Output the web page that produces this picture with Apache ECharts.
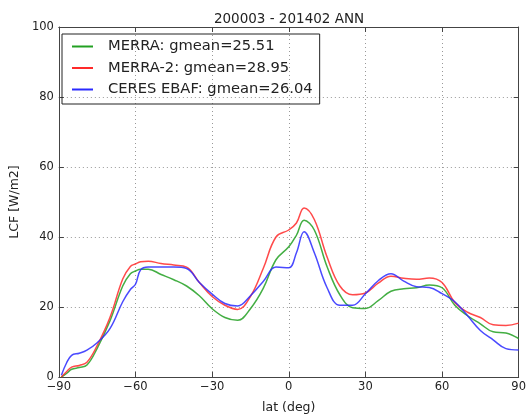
<!DOCTYPE html>
<html>
<head>
<meta charset="utf-8">
<script src="https://cdn.jsdelivr.net/npm/echarts@6/dist/echarts.min.js"></script>
<style>
  html, body { margin: 0; padding: 0; background: #fff; }
  #chart { width: 529px; height: 419px; }
</style>
</head>
<body>
<div id="chart"></div>
<script>
// 纬度 (deg)
var lat = [-89, -87, -85, -82, -79, -75, -70, -65, -62, -60, -58, -55, -50, -45, -40, -35, -30, -25, -20, -15, -10, -5,
  0, 3, 6, 10, 15, 20, 25, 30, 35, 40, 45, 50, 55, 60, 65, 70, 75, 80, 85, 90];
var merra = [0, 1.0, 2.2, 2.7, 3.4, 8.2, 16, 26, 29.5, 30.3, 30.8, 30.8, 29.3, 27.8, 26, 23.2, 19.5, 17, 16.2, 19.5, 25.3, 33.5,
  37.2, 40.5, 44.8, 42, 31.5, 23.5, 19.8, 19.6, 21.8, 24.5, 25.2, 25.5, 26.3, 25.5, 20.5, 17.5, 15.2, 12.9, 12.6, 11];
var merra2 = [0, 1.5, 2.8, 3.3, 4.2, 9, 17, 28, 31.6, 32.3, 32.9, 33.1, 32.4, 32, 31.4, 27, 23, 20.5, 19.3, 23, 31, 40,
  42, 44, 48.3, 45, 34.3, 26, 23.5, 24, 26.8, 28.8, 28.2, 27.9, 28.3, 27, 21.3, 18.5, 17, 14.9, 14.7, 15.4];
var ceres = [0.5, 4, 6.2, 6.8, 7.7, 9.8, 13.8, 21.5, 25, 26.5, 30.6, 31.4, 31.4, 31.4, 31, 27, 23.7, 21, 20.3, 23.2, 27.3, 31.4,
  31.2, 35.5, 41.5, 35.5, 25.5, 20.5, 20.5, 23.8, 27.5, 29.5, 27.4, 25.8, 25.6, 23.8, 21.5, 17.5, 13.3, 10.6, 8.1, 7.7];
var seriesNames = ['MERRA: gmean=25.51', 'MERRA-2: gmean=28.95', 'CERES EBAF: gmean=26.04'];
var xTicks = [-90, 90, 30];   // min, max, interval
var yTicks = [0, 100, 20];

function pairs(vals) {
  var out = [];
  for (var i = 0; i < lat.length; i++) out.push([lat[i], vals[i]]);
  return out;
}

var font = 'DejaVu Sans';
var myChart = echarts.init(document.getElementById('chart'));

// 上/右边框 (只画刻度)
var frameAxis = {
  axisLine: { show: true, onZero: false, lineStyle: { color: '#444', width: 1 } },
  axisTick: { show: true, inside: true, length: 5, lineStyle: { color: '#444' } },
  splitLine: { show: false },
  axisLabel: { show: false }
};

var option = {
  animation: false,
  backgroundColor: '#fff',
  title: {
    text: '200003 - 201402 ANN',
    left: 284, top: 7, textAlign: 'center',
    textStyle: { fontFamily: font, fontSize: 13.5, fontWeight: 'normal', color: '#222' }
  },
  legend: {
    orient: 'vertical',
    left: 62, top: 34,
    padding: [5, 7, 7, 10],
    itemGap: 6.5,
    itemWidth: 21, itemHeight: 2,
    borderColor: '#222', borderWidth: 1,
    icon: 'rect',
    textStyle: { fontFamily: font, fontSize: 14.7, color: '#222', padding: [0, 0, 0, 10] },
    data: seriesNames
  },
  grid: { left: 54, right: 9, top: 27, bottom: 32 },
  xAxis: [{
    type: 'value', min: xTicks[0], max: xTicks[1], interval: xTicks[2],
    name: 'lat (deg)', nameLocation: 'middle', nameGap: 24,
    nameTextStyle: { fontFamily: font, fontSize: 12.5, color: '#222' },
    axisLine: { onZero: false, lineStyle: { color: '#444' } },
    axisTick: { inside: true, length: 5, lineStyle: { color: '#444' } },
    axisLabel: {
      fontFamily: font, fontSize: 11.5, color: '#222', margin: 4,
      formatter: function (v) { return String(v).replace('-', '\u2212'); }
    },
    splitLine: { show: true, lineStyle: { color: '#999', type: [1, 3] } }
  }, Object.assign({ type: 'value', position: 'top', min: xTicks[0], max: xTicks[1], interval: xTicks[2] }, frameAxis)],
  yAxis: [{
    type: 'value', min: yTicks[0], max: yTicks[1], interval: yTicks[2],
    name: 'LCF [W/m2]', nameLocation: 'middle', nameGap: 32,
    nameTextStyle: { fontFamily: font, fontSize: 12.5, color: '#222' },
    axisLine: { show: true, onZero: false, lineStyle: { color: '#444' } },
    axisTick: { show: true, inside: true, length: 5, lineStyle: { color: '#444' } },
    axisLabel: { fontFamily: font, fontSize: 11.5, color: '#222', margin: 5 },
    splitLine: { show: true, lineStyle: { color: '#999', type: [1, 3] } }
  }, Object.assign({ type: 'value', position: 'right', min: yTicks[0], max: yTicks[1], interval: yTicks[2] }, frameAxis)],
  series: [{
    name: seriesNames[0], type: 'line', data: pairs(merra),
    smooth: 0.4, showSymbol: false, color: '#22a022',
    lineStyle: { width: 1.5, opacity: 0.85 }
  }, {
    name: seriesNames[1], type: 'line', data: pairs(merra2),
    smooth: 0.4, showSymbol: false, color: '#ff2a2a',
    lineStyle: { width: 1.5, opacity: 0.85 }
  }, {
    name: seriesNames[2], type: 'line', data: pairs(ceres),
    smooth: 0.4, showSymbol: false, color: '#2a2aff',
    lineStyle: { width: 1.5, opacity: 0.85 }
  }]
};

myChart.setOption(option);
</script>
</body>
</html>
